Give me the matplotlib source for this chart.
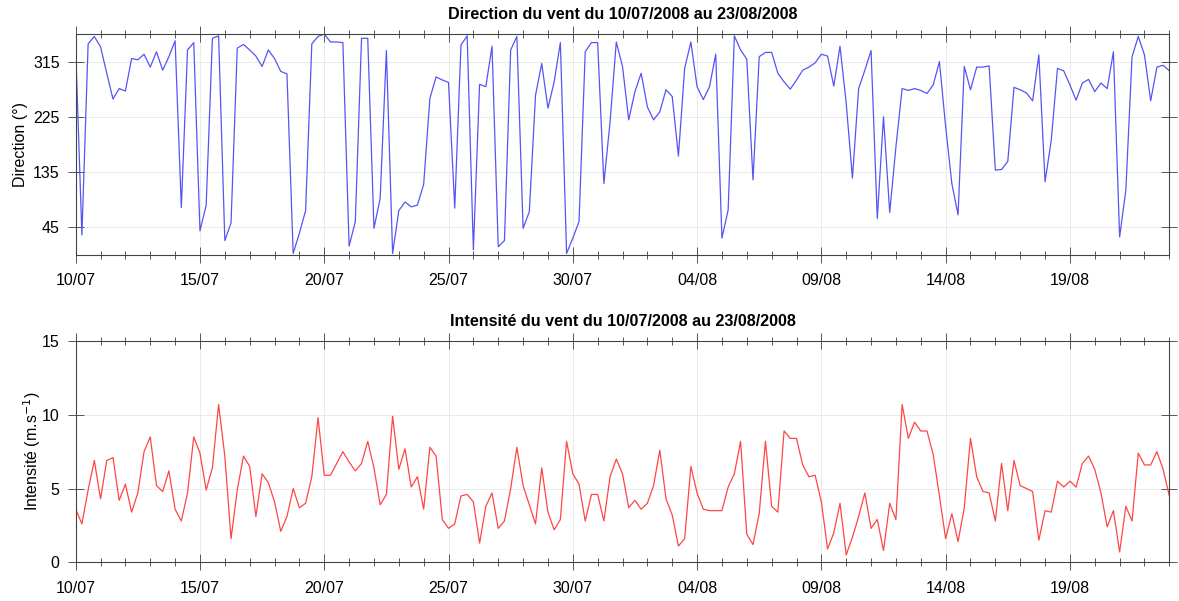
import numpy as np
import pandas as pd
import matplotlib
matplotlib.use("Agg")
import matplotlib.pyplot as plt
import matplotlib.dates as mdates

plt.rcParams['font.family'] = ['Liberation Sans', 'DejaVu Sans']

# 6-hourly samples, 10/07/2008 00h -> 23/08/2008 00h
times = pd.date_range("2008-07-10", "2008-08-23", freq="6h")

direction = [
    335, 32, 344, 356, 339, 296, 254, 271, 267, 320, 318, 327, 306, 331, 301, 323,
    349, 77, 334, 346, 39, 81, 353, 357, 23, 52, 337, 343, 334, 324, 307, 334,
    320, 299, 295, 2, 35, 72, 344, 356, 360, 347, 347, 346, 14, 54, 353, 353,
    43, 92, 333, 2, 72, 86, 78, 81, 115, 255, 290, 285, 281, 76, 342, 357,
    8, 278, 274, 340, 13, 23, 334, 356, 43, 70, 260, 312, 239, 282, 346, 2,
    27, 54, 331, 346, 346, 116, 217, 347, 307, 220, 266, 296, 241, 220, 233, 269,
    258, 161, 304, 347, 274, 253, 274, 327, 27, 73, 357, 334, 319, 122, 323, 330,
    330, 296, 282, 270, 285, 301, 306, 313, 327, 324, 275, 340, 247, 125, 271, 301,
    333, 59, 225, 69, 176, 271, 268, 271, 268, 263, 277, 315, 209, 116, 65, 307,
    269, 306, 306, 308, 138, 139, 152, 273, 269, 264, 251, 326, 119, 187, 304, 300,
    277, 252, 280, 286, 266, 280, 271, 331, 29, 105, 323, 356, 326, 251, 306, 309,
    300,
]

intensity = [
    3.6, 2.6, 4.9, 6.9, 4.3, 6.9, 7.1, 4.2, 5.3, 3.4, 4.7, 7.5, 8.5, 5.2, 4.8, 6.2,
    3.6, 2.8, 4.7, 8.5, 7.4, 4.9, 6.4, 10.7, 7.2, 1.6, 4.9, 7.2, 6.5, 3.1, 6.0, 5.4,
    4.1, 2.1, 3.1, 5.0, 3.7, 4.0, 5.8, 9.8, 5.9, 5.9, 6.7, 7.5, 6.8, 6.2, 6.7, 8.2,
    6.4, 3.9, 4.6, 9.9, 6.3, 7.7, 5.1, 5.8, 3.6, 7.8, 7.2, 2.9, 2.3, 2.6, 4.5, 4.6,
    4.1, 1.3, 3.8, 4.7, 2.3, 2.8, 5.0, 7.8, 5.2, 3.9, 2.6, 6.4, 3.4, 2.2, 2.9, 8.2,
    6.0, 5.3, 2.8, 4.6, 4.6, 2.8, 5.8, 7.0, 6.0, 3.7, 4.2, 3.6, 4.0, 5.2, 7.6, 4.3,
    3.2, 1.1, 1.6, 6.5, 4.7, 3.6, 3.5, 3.5, 3.5, 5.1, 6.0, 8.2, 1.9, 1.2, 3.3, 8.2,
    3.8, 3.4, 8.9, 8.4, 8.4, 6.6, 5.8, 5.9, 4.1, 0.9, 2.0, 4.0, 0.5, 1.7, 3.1, 4.7,
    2.3, 2.9, 0.8, 4.0, 2.9, 10.7, 8.4, 9.5, 8.9, 8.9, 7.3, 4.5, 1.6, 3.3, 1.4, 3.7,
    8.4, 5.8, 4.8, 4.7, 2.8, 6.7, 3.5, 6.9, 5.2, 5.0, 4.8, 1.5, 3.5, 3.4, 5.5, 5.1,
    5.5, 5.1, 6.7, 7.2, 6.3, 4.7, 2.4, 3.5, 0.7, 3.8, 2.8, 7.4, 6.6, 6.6, 7.5, 6.3,
    4.5,
]

dir_ticks = [45, 135, 225, 315]
int_ticks = [0, 5, 10, 15]
major = pd.date_range("2008-07-10", "2008-08-23", freq="5D")

fig = plt.figure(figsize=(11.79, 6.01), dpi=100)
ax1 = fig.add_axes([0.0642, 0.5762, 0.9276, 0.3672])
ax2 = fig.add_axes([0.0642, 0.0644, 0.9276, 0.3682])


def style(ax):
    ax.set_xlim(times[0], times[-1])
    ax.set_xticks(major)
    ax.xaxis.set_minor_locator(mdates.DayLocator())
    ax.xaxis.set_major_formatter(mdates.DateFormatter("%d/%m"))
    ax.tick_params(which='both', direction='inout', top=True, right=True,
                   color='#555555', labelsize=11.5)
    ax.tick_params(which='major', length=11, width=0.7, pad=6)
    ax.tick_params(which='minor', length=6, width=0.7)
    ax.tick_params(axis='x', which='major', pad=8)
    ax.grid(True, which='major', color='#ebebeb', linewidth=0.7)
    for s in ax.spines.values():
        s.set_color('#444444')
        s.set_linewidth(0.8)


ax1.plot(times, direction, color='#5555f5', linewidth=0.9)
style(ax1)
ax1.set_ylim(0, 360)
ax1.set_yticks(dir_ticks)
ax1.set_ylabel("Direction (°)", fontsize=11.5, labelpad=3.5)
ax1.set_title("Direction du vent du 10/07/2008 au 23/08/2008",
              fontsize=11.6, fontweight='bold', pad=11)

ax2.plot(times, intensity, color='#ff4545', linewidth=0.9)
style(ax2)
ax2.set_ylim(0, 15)
ax2.set_yticks(int_ticks)
ax2.set_ylabel("Intensité (m.s$^{-1}$)", fontsize=11.5, labelpad=-0.5)
ax2.set_title("Intensité du vent du 10/07/2008 au 23/08/2008",
              fontsize=11.6, fontweight='bold', pad=11)

fig.savefig("out.png", dpi=100)
